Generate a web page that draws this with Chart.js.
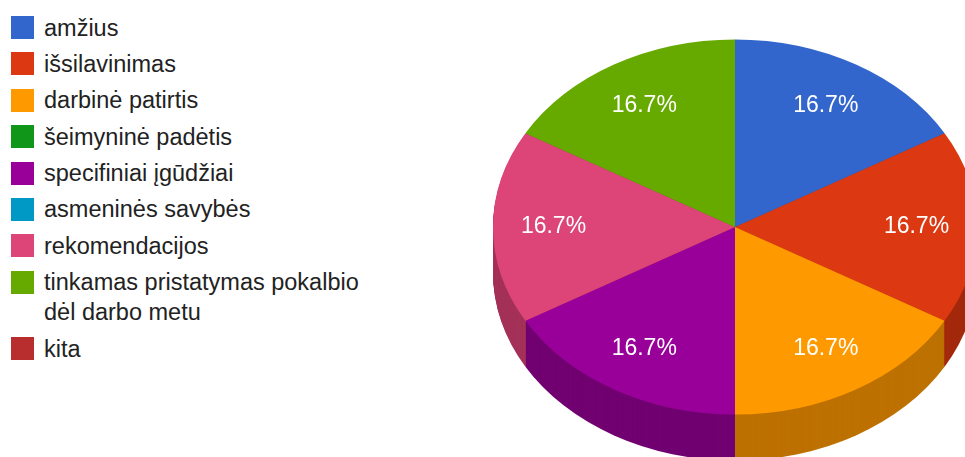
<!DOCTYPE html>
<html>
<head>
<meta charset="utf-8">
<script src="https://cdn.jsdelivr.net/npm/chart.js@4.4.0/dist/chart.umd.min.js"></script>
<style>
  html, body { margin: 0; padding: 0; background: #fff; overflow: hidden; }
  body { width: 965px; height: 457px; position: relative; font-family: Arial, "Liberation Sans", sans-serif; }
  #legend { position: absolute; left: 11px; top: 12.5px; margin: 0; padding: 0; list-style: none; }
  #legend li { display: flex; align-items: flex-start; font-size: 23.5px; line-height: 30px; color: #222; margin-bottom: 6.4px; }
  #legend .box { width: 23px; height: 23px; margin-top: 3.5px; margin-right: 10px; flex: none; }
  #legend .txt { max-width: 335px; }
  #pieBox { position: absolute; left: 493px; top: -15px; width: 484px; height: 484px; }
</style>
</head>
<body>
<ul id="legend"></ul>
<div id="pieBox"><canvas id="pie"></canvas></div>
<script>
const labels = [
  "amžius",
  "išsilavinimas",
  "darbinė patirtis",
  "šeimyninė padėtis",
  "specifiniai įgūdžiai",
  "asmeninės savybės",
  "rekomendacijos",
  "tinkamas pristatymas pokalbio dėl darbo metu",
  "kita"
];
const values = [1, 1, 1, 0, 1, 0, 1, 1, 0];
const colors = ["#3366cc", "#dc3912", "#ff9900", "#109618", "#990099", "#0099c6", "#dd4477", "#66aa00", "#b82e2e"];

const TILT = 0.775;  // vertical squash of the pie
const DEPTH = 46;    // thickness of the side wall in px

// legend (html, so the long label can wrap)
const legendEl = document.getElementById("legend");
labels.forEach((l, i) => {
  const li = document.createElement("li");
  const box = document.createElement("span");
  box.className = "box";
  box.style.background = colors[i];
  const txt = document.createElement("span");
  txt.className = "txt";
  txt.textContent = l;
  li.appendChild(box);
  li.appendChild(txt);
  legendEl.appendChild(li);
});

function shade(hex, f) {
  const n = parseInt(hex.slice(1), 16);
  const r = Math.round(((n >> 16) & 255) * f);
  const g = Math.round(((n >> 8) & 255) * f);
  const b = Math.round((n & 255) * f);
  return "rgb(" + r + "," + g + "," + b + ")";
}

const pie3d = {
  id: "pie3d",
  beforeDatasetsDraw(chart) {
    const ctx = chart.ctx;
    const arcs = chart.getDatasetMeta(0).data;
    if (!arcs.length) return;
    const cx = arcs[0].x, cy = arcs[0].y;
    // side walls, stacked from the bottom up
    for (let d = DEPTH; d >= 1; d--) {
      ctx.save();
      ctx.translate(cx, cy + d);
      ctx.scale(1, TILT);
      arcs.forEach((a, i) => {
        if (a.endAngle - a.startAngle <= 0) return;
        ctx.beginPath();
        ctx.moveTo(0, 0);
        ctx.arc(0, 0, a.outerRadius, a.startAngle, a.endAngle);
        ctx.closePath();
        ctx.fillStyle = shade(colors[i], 0.74);
        ctx.fill();
      });
      ctx.restore();
    }
    // squash the top face
    ctx.save();
    ctx.translate(cx, cy);
    ctx.scale(1, TILT);
    ctx.translate(-cx, -cy);
  },
  afterDatasetsDraw(chart) {
    const ctx = chart.ctx;
    ctx.restore();
    const arcs = chart.getDatasetMeta(0).data;
    const total = values.reduce((s, v) => s + v, 0);
    ctx.save();
    ctx.fillStyle = "#ffffff";
    ctx.font = "23px Arial, 'Liberation Sans', sans-serif";
    ctx.textAlign = "center";
    ctx.textBaseline = "middle";
    arcs.forEach((a, i) => {
      if (!values[i]) return;
      const mid = (a.startAngle + a.endAngle) / 2;
      const r = a.outerRadius * 0.75;
      const px = a.x + Math.cos(mid) * r;
      const py = a.y + Math.sin(mid) * r * TILT;
      ctx.fillText((values[i] / total * 100).toFixed(1) + "%", px, py);
    });
    ctx.restore();
  }
};

new Chart(document.getElementById("pie"), {
  type: "pie",
  data: {
    labels: labels,
    datasets: [{
      data: values,
      backgroundColor: colors,
      borderWidth: 0,
      hoverOffset: 0,
      offset: 0
    }]
  },
  options: {
    responsive: true,
    maintainAspectRatio: false,
    animation: false,
    layout: { padding: 0 },
    plugins: {
      legend: { display: false },
      tooltip: { enabled: false }
    }
  },
  plugins: [pie3d]
});
</script>
</body>
</html>
